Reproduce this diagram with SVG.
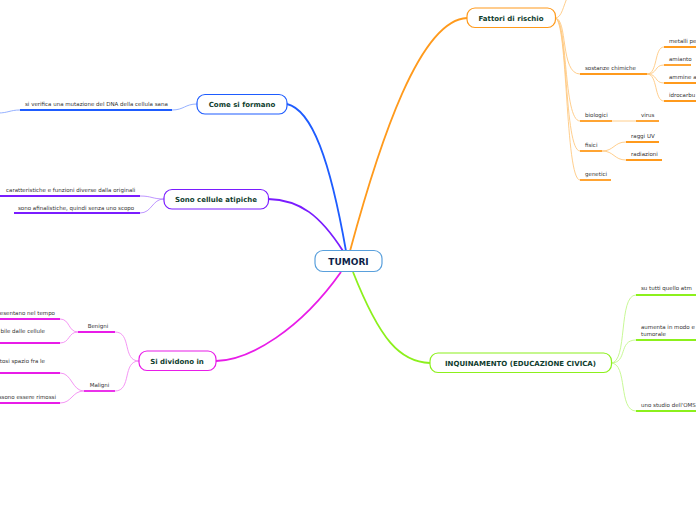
<svg xmlns="http://www.w3.org/2000/svg" width="696" height="520" viewBox="0 0 696 520">
<style>
.node{fill:#fff;stroke-width:1.2}
.lbl{font-family:"DejaVu Sans",Verdana,sans-serif;font-weight:bold;font-size:7px;fill:#0f3d2e;text-anchor:middle}
.sm{font-family:"DejaVu Sans",Verdana,sans-serif;font-size:5.5px;fill:#333}
.main{fill:none;stroke-width:1.8}
.thin{fill:none;stroke-width:0.9}
.ul{fill:none;stroke-width:1.8}
</style>
<rect width="696" height="520" fill="#fff"/>
<g id="connectors">
  <path class="main" stroke="#1e5cff" d="M346 251 C330 160 312 110 287 104"/>
  <path class="main" stroke="#7a1cff" d="M343 251 C320 215 300 200 268 199"/>
  <path class="main" stroke="#e81ce8" d="M341 272 C300 330 250 360 216 361"/>
  <path class="main" stroke="#ff9a1c" d="M350 251 C380 140 420 20 467 18"/>
  <path class="main" stroke="#8cf01c" d="M353 272 C380 340 400 362 430 363"/>
  <path class="thin" stroke="#8aa8ff" d="M197 104 C185 104 184 110 172 110"/>
  <path class="ul" stroke="#1e5cff" d="M20 110 H172"/>
  <path class="thin" stroke="#8aa8ff" d="M20 110 C10 110 8 113 -2 113"/>
  <path class="thin" stroke="#b78aff" d="M164 199 C152 199 152 196 140 196"/>
  <path class="thin" stroke="#b78aff" d="M164 199 C152 199 152 213 140 213"/>
  <path class="ul" stroke="#7a1cff" d="M0 196 H140"/>
  <path class="ul" stroke="#7a1cff" d="M14 213 H140"/>
  <path class="thin" stroke="#f38af3" d="M139 361 C122 361 132 332 115 332"/>
  <path class="thin" stroke="#f38af3" d="M139 361 C122 361 132 391 115 391"/>
  <path class="ul" stroke="#e81ce8" d="M78 332 H115"/>
  <path class="ul" stroke="#e81ce8" d="M84 391 H115"/>
  <path class="thin" stroke="#f38af3" d="M78 332 C68 332 70 319 60 319"/>
  <path class="thin" stroke="#f38af3" d="M78 332 C68 332 70 343 60 343"/>
  <path class="thin" stroke="#f38af3" d="M84 391 C72 391 72 373 60 373"/>
  <path class="thin" stroke="#f38af3" d="M84 391 C72 391 72 403 60 403"/>
  <path class="ul" stroke="#e81ce8" d="M0 319 H60"/>
  <path class="ul" stroke="#e81ce8" d="M0 343 H60"/>
  <path class="ul" stroke="#e81ce8" d="M0 373 H60"/>
  <path class="ul" stroke="#e81ce8" d="M0 403 H60"/>
  <path class="thin" stroke="#ffc880" d="M555 18 C562 18 563 6 568 -4"/>
  <path class="thin" stroke="#ffc880" d="M555 18 C568 18 560 74 580 74"/>
  <path class="thin" stroke="#ffc880" d="M555 18 C568 18 563 121 580 121"/>
  <path class="thin" stroke="#ffc880" d="M555 18 C568 18 564 151 580 151"/>
  <path class="thin" stroke="#ffc880" d="M555 18 C568 18 565 180 580 180"/>
  <path class="ul" stroke="#ff9a1c" d="M580 74 H647"/>
  <path class="ul" stroke="#ff9a1c" d="M580 121 H612"/>
  <path class="ul" stroke="#ff9a1c" d="M580 151 H602"/>
  <path class="ul" stroke="#ff9a1c" d="M580 180 H611"/>
  <path class="thin" stroke="#ffc880" d="M647 74 C658 74 654 47 664 47"/>
  <path class="thin" stroke="#ffc880" d="M647 74 C658 74 654 65 664 65"/>
  <path class="thin" stroke="#ffc880" d="M647 74 C658 74 654 83 664 83"/>
  <path class="thin" stroke="#ffc880" d="M647 74 C658 74 654 101 664 101"/>
  <path class="ul" stroke="#ff9a1c" d="M664 47 H698"/>
  <path class="ul" stroke="#ff9a1c" d="M664 65 H691"/>
  <path class="ul" stroke="#ff9a1c" d="M664 83 H698"/>
  <path class="ul" stroke="#ff9a1c" d="M664 101 H698"/>
  <path class="thin" stroke="#ffc880" d="M612 121 H636"/>
  <path class="ul" stroke="#ff9a1c" d="M636 121 H659"/>
  <path class="thin" stroke="#ffc880" d="M602 151 C614 151 614 142 626 142"/>
  <path class="thin" stroke="#ffc880" d="M602 151 C614 151 614 160 626 160"/>
  <path class="ul" stroke="#ff9a1c" d="M626 142 H659"/>
  <path class="ul" stroke="#ff9a1c" d="M626 160 H662"/>
  <path class="thin" stroke="#c2f78a" d="M611 363 C628 363 618 295 636 295"/>
  <path class="thin" stroke="#c2f78a" d="M611 363 C628 363 618 340 636 340"/>
  <path class="thin" stroke="#c2f78a" d="M611 363 C628 363 618 411 636 411"/>
  <path class="ul" stroke="#8cf01c" d="M636 295 H698"/>
  <path class="ul" stroke="#8cf01c" d="M636 340 H698"/>
  <path class="ul" stroke="#8cf01c" d="M636 411 H698"/>
</g>
<g id="tumori">
  <rect class="node" x="315" y="250.5" width="67" height="21" rx="8" stroke="#5aa0dc"/>
  <text x="348.5" y="264.5" text-anchor="middle" font-family="DejaVu Sans,Verdana,sans-serif" font-weight="bold" font-size="9" fill="#0d1f4a">TUMORI</text>
</g>
<g id="come-si-formano">
  <rect class="node" x="197" y="94.5" width="90" height="19.5" rx="8" stroke="#1e5cff"/>
  <text class="lbl" x="242" y="107">Come si formano</text>
  <text class="sm" x="25" y="106">si verifica una mutazione del DNA della cellula sana</text>
</g>
<g id="sono-cellule-atipiche">
  <rect class="node" x="164" y="189.5" width="104.5" height="19.5" rx="8" stroke="#7a1cff"/>
  <text class="lbl" x="216" y="202">Sono cellule atipiche</text>
  <text class="sm" x="6" y="192">caratteristiche e funzioni diverse dalla originali</text>
  <text class="sm" x="18" y="210">sono afinalistiche, quindi senza uno scopo</text>
</g>
<g id="si-dividono-in">
  <rect class="node" x="139" y="351" width="77" height="19.5" rx="8" stroke="#e81ce8"/>
  <text class="lbl" x="177" y="363.5">Si dividono in</text>
  <text class="sm" x="98" y="328" text-anchor="middle">Benigni</text>
  <text class="sm" x="99.5" y="387" text-anchor="middle">Maligni</text>
  <text class="sm" x="55" y="315" text-anchor="end">esentano nel tempo</text>
  <text class="sm" x="45" y="333" text-anchor="end">bile dalle cellule</text>
  <text class="sm" x="45" y="363" text-anchor="end">tosi spazio fra le</text>
  <text class="sm" x="56" y="399" text-anchor="end">ssono essere rimossi</text>
</g>
<g id="fattori-di-rischio">
  <rect class="node" x="467" y="8" width="88.5" height="19.5" rx="8" stroke="#ff9a1c"/>
  <text class="lbl" x="511" y="20.5">Fattori di rischio</text>
  <text class="sm" x="585" y="70">sostanze chimiche</text>
  <text class="sm" x="585" y="117">biologici</text>
  <text class="sm" x="585" y="147">fisici</text>
  <text class="sm" x="585" y="176">genetici</text>
  <text class="sm" x="669" y="43">metalli pe</text>
  <text class="sm" x="669" y="61">amianto</text>
  <text class="sm" x="669" y="79">ammine a</text>
  <text class="sm" x="669" y="97">idrocarbu</text>
  <text class="sm" x="641" y="117">virus</text>
  <text class="sm" x="631" y="138">raggi UV</text>
  <text class="sm" x="631" y="156">radiazioni</text>
</g>
<g id="inquinamento">
  <rect class="node" x="430" y="353" width="181.5" height="19.5" rx="8" stroke="#8cf01c"/>
  <text class="lbl" x="520.5" y="365.5">INQUINAMENTO (EDUCAZIONE CIVICA)</text>
  <text class="sm" x="641" y="290">su tutti quello atm</text>
  <text class="sm" x="641" y="329">aumenta in modo e</text>
  <text class="sm" x="641" y="335.5">tumorale</text>
  <text class="sm" x="641" y="407">uno studio dell'OMS</text>
</g>
</svg>
